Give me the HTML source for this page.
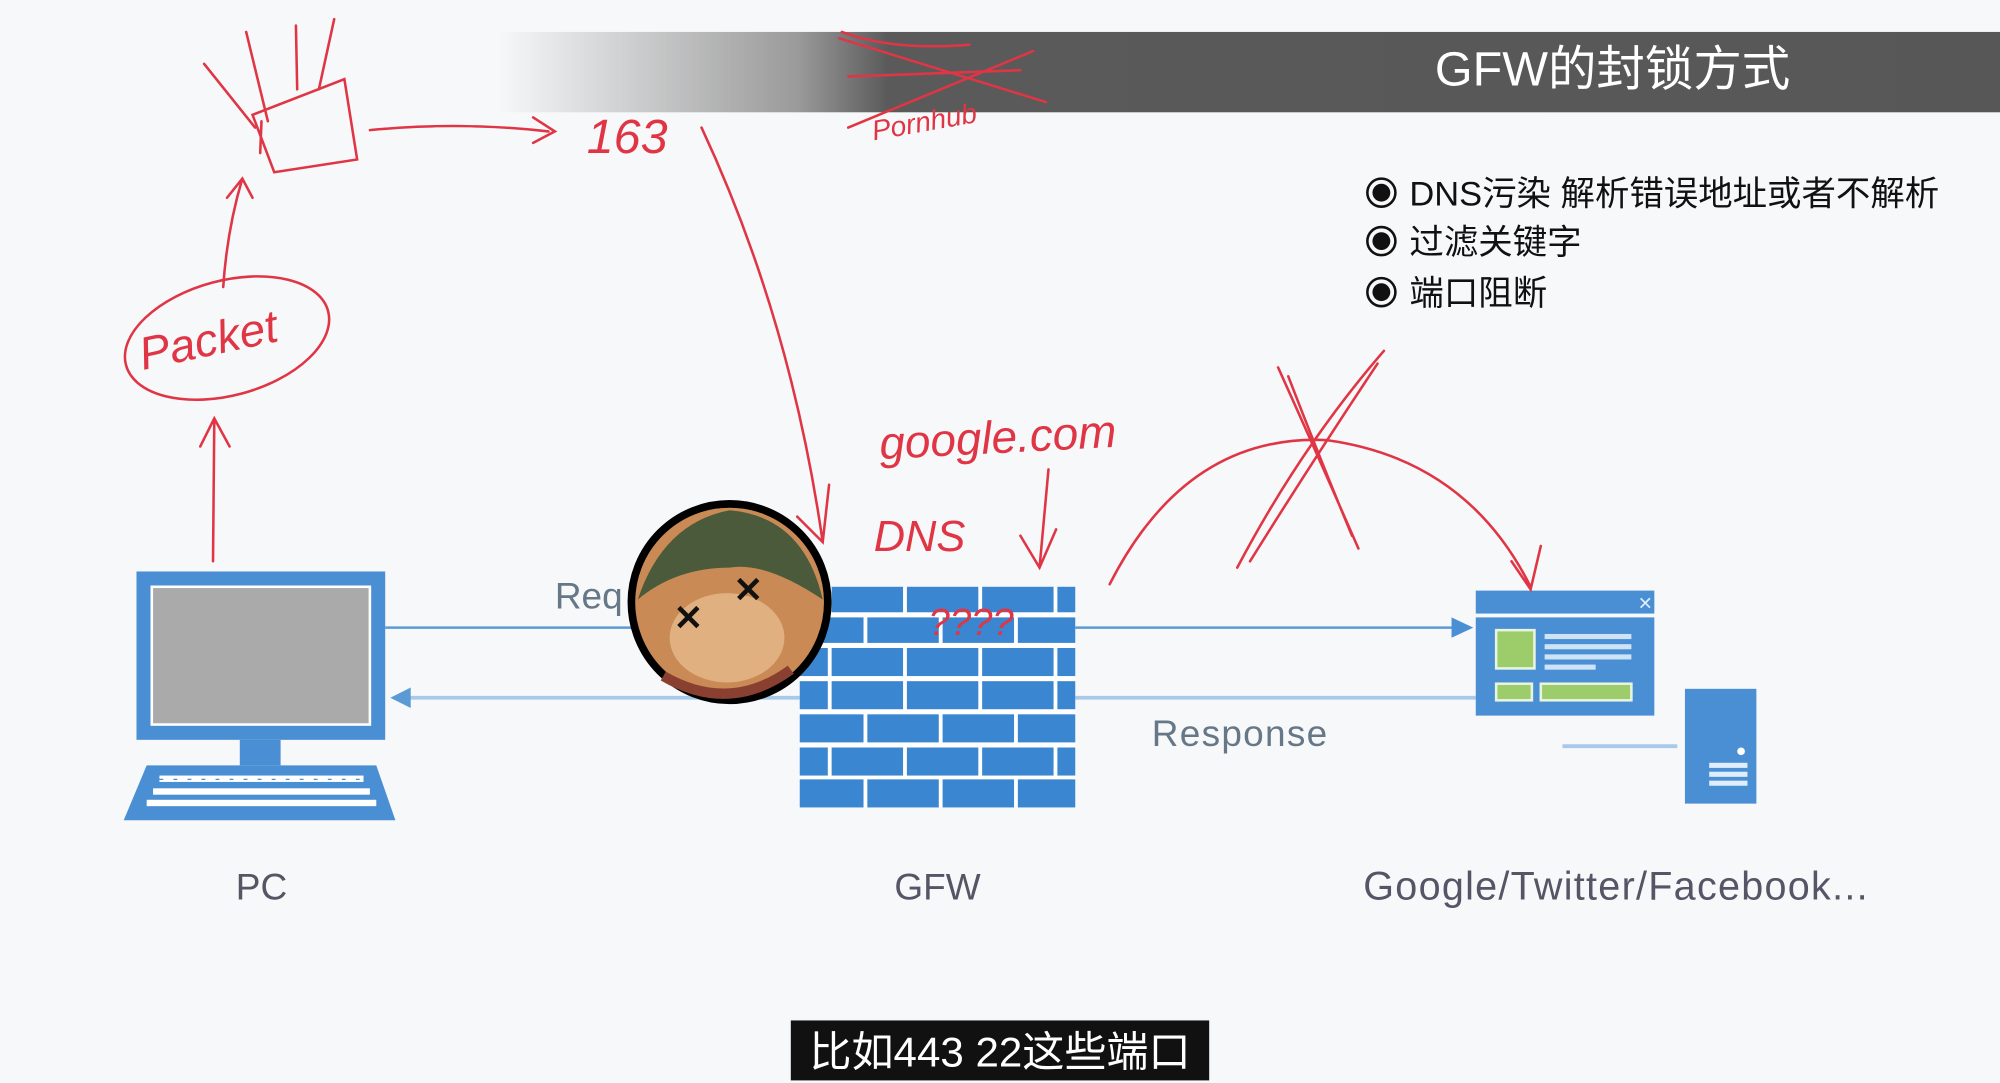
<!DOCTYPE html>
<html><head><meta charset="utf-8"><style>
html,body{margin:0;padding:0;background:#f7f8fa;}
svg{display:block}
text{font-family:"Liberation Sans","Noto Sans CJK SC",sans-serif}
</style></head><body>
<svg width="2000" height="1083" viewBox="0 0 1568 849" xmlns="http://www.w3.org/2000/svg">
<defs>
<linearGradient id="hg" x1="0" x2="1" y1="0" y2="0">
<stop offset="0" stop-color="#f7f8fa"/>
<stop offset="0.2" stop-color="#9a9a9a"/>
<stop offset="0.26" stop-color="#5a5a5a"/>
<stop offset="1" stop-color="#575757"/>
</linearGradient>
</defs>
<rect width="1568" height="849" fill="#f7f8fa"/>
<rect x="390" y="25" width="1178" height="63" fill="url(#hg)"/>
<text x="1125" y="67" font-size="38" fill="#fff">GFW的封锁方式</text>

<g font-size="27" fill="#111">
<circle cx="1083" cy="151" r="11" fill="none" stroke="#111" stroke-width="2"/><circle cx="1083" cy="151" r="7" fill="#111"/>
<text x="1105" y="161">DNS污染 解析错误地址或者不解析</text>
<circle cx="1083" cy="189" r="11" fill="none" stroke="#111" stroke-width="2"/><circle cx="1083" cy="189" r="7" fill="#111"/>
<text x="1105" y="199">过滤关键字</text>
<circle cx="1083" cy="229" r="11" fill="none" stroke="#111" stroke-width="2"/><circle cx="1083" cy="229" r="7" fill="#111"/>
<text x="1105" y="239">端口阻断</text>
</g>

<line x1="302" y1="492" x2="1140" y2="492" stroke="#5b9bd5" stroke-width="2"/>
<polygon points="1155,492 1138,484 1138,500" fill="#4a8fd4"/>
<line x1="320" y1="547" x2="1157" y2="547" stroke="#a9c9ea" stroke-width="3"/>
<polygon points="306,547 322,539 322,555" fill="#5b9bd5"/>
<line x1="1225" y1="585" x2="1315" y2="585" stroke="#a9c9ea" stroke-width="3"/>
<text x="435" y="477" font-size="29" fill="#667788">Req</text>
<text x="903" y="585" font-size="29" fill="#667788" letter-spacing="1">Response</text>

<rect x="107" y="448" width="195" height="132" fill="#4a8fd4"/>
<rect x="119" y="460" width="171" height="108" fill="#aaaaaa" stroke="#fff" stroke-width="2"/>
<rect x="188" y="580" width="32" height="20" fill="#4a8fd4"/>
<polygon points="115,600 295,600 310,643 97,643" fill="#4a8fd4"/>
<g fill="#fff">
<rect x="125" y="608" width="160" height="5"/><rect x="120" y="618" width="170" height="5"/><rect x="115" y="627" width="180" height="5"/>
</g>
<line x1="125" y1="611" x2="285" y2="611" stroke="#4a8fd4" stroke-width="1" stroke-dasharray="3,8"/>

<rect x="627" y="460" width="216" height="173" fill="#fff"/>
<g fill="#3a86d0">
<rect x="652" y="460" width="56" height="20"/><rect x="711" y="460" width="56" height="20"/><rect x="770" y="460" width="56" height="20"/><rect x="829" y="460" width="14" height="20"/><rect x="627" y="460" width="22" height="20"/>
<rect x="627" y="484" width="50" height="20"/><rect x="680" y="484" width="56" height="20"/><rect x="739" y="484" width="56" height="20"/><rect x="798" y="484" width="45" height="20"/>
<rect x="627" y="508" width="22" height="22"/><rect x="652" y="508" width="56" height="22"/><rect x="711" y="508" width="56" height="22"/><rect x="770" y="508" width="56" height="22"/><rect x="829" y="508" width="14" height="22"/>
<rect x="627" y="534" width="22" height="22"/><rect x="652" y="534" width="56" height="22"/><rect x="711" y="534" width="56" height="22"/><rect x="770" y="534" width="56" height="22"/><rect x="829" y="534" width="14" height="22"/>
<rect x="627" y="560" width="50" height="22"/><rect x="680" y="560" width="56" height="22"/><rect x="739" y="560" width="56" height="22"/><rect x="798" y="560" width="45" height="22"/>
<rect x="627" y="586" width="22" height="22"/><rect x="652" y="586" width="56" height="22"/><rect x="711" y="586" width="56" height="22"/><rect x="770" y="586" width="56" height="22"/><rect x="829" y="586" width="14" height="22"/>
<rect x="627" y="611" width="50" height="22"/><rect x="680" y="611" width="56" height="22"/><rect x="739" y="611" width="56" height="22"/><rect x="798" y="611" width="45" height="22"/>
</g>

<rect x="1157" y="463" width="140" height="18" fill="#4a8fd4"/>
<text x="1284" y="478" font-size="14" fill="#dfeefa">✕</text>
<rect x="1157" y="484" width="140" height="77" fill="#4a8fd4"/>
<rect x="1173" y="494" width="30" height="30" fill="#9ccd6a" stroke="#e8f4e0" stroke-width="2"/>
<g fill="#cfe3f6"><rect x="1211" y="497" width="68" height="4"/><rect x="1211" y="505" width="68" height="4"/><rect x="1211" y="513" width="68" height="4"/><rect x="1211" y="521" width="40" height="4"/></g>
<rect x="1173" y="536" width="28" height="13" fill="#9ccd6a" stroke="#e8f4e0" stroke-width="2"/>
<rect x="1208" y="536" width="71" height="13" fill="#9ccd6a" stroke="#e8f4e0" stroke-width="2"/>
<rect x="1321" y="540" width="56" height="90" fill="#4a8fd4"/>
<circle cx="1365" cy="589" r="3" fill="#fff"/>
<g fill="#dfeefa"><rect x="1340" y="598" width="30" height="4"/><rect x="1340" y="605" width="30" height="4"/><rect x="1340" y="612" width="30" height="4"/></g>

<g font-size="29" fill="#556" text-anchor="middle">
<text x="205" y="705">PC</text><text x="735" y="705">GFW</text><text x="1267" y="705" font-size="31" letter-spacing="1">Google/Twitter/Facebook...</text>
</g>

<circle cx="572" cy="472" r="77" fill="#c98a55" stroke="#000" stroke-width="6"/>
<path d="M500 470 Q520 410 572 400 Q630 405 645 470 Q600 440 572 445 Q530 445 500 470Z" fill="#4a5a3a"/>
<ellipse cx="570" cy="500" rx="45" ry="35" fill="#e0b080"/>
<text x="528" y="494" font-size="28" fill="#111" font-weight="bold">✕</text>
<text x="575" y="472" font-size="28" fill="#111" font-weight="bold">✕</text>
<path d="M520 530 Q572 560 620 525" fill="none" stroke="#8a4030" stroke-width="8"/>

<g fill="none" stroke="#e03545" stroke-width="2" stroke-linecap="round">
<path d="M160 50 L200 100 M193 25 L210 95 M232 20 L233 70 M262 15 L250 70 M198 90 L270 62 L280 125 L215 135 Z M205 95 L204 120"/>
<path d="M290 102 Q360 95 430 103 M418 92 L435 103 L418 112"/>
<text x="460" y="120" font-size="38" fill="#e03545" stroke="none" font-style="italic">163</text>
<ellipse cx="178" cy="265" rx="82" ry="45" transform="rotate(-15 178 265)"/>
<text x="112" y="290" font-size="36" fill="#e03545" stroke="none" font-style="italic" transform="rotate(-12 112 290)">Packet</text>
<path d="M175 225 Q178 180 190 140 M178 155 L190 140 L198 155"/>
<path d="M167 440 L168 330 M157 350 L168 328 L180 350"/>
<path d="M550 100 Q620 250 645 425 M625 405 L645 425 L650 380"/>
<text x="690" y="360" font-size="36" fill="#e03545" stroke="none" font-style="italic" transform="rotate(-3 690 360)">google.com</text>
<text x="685" y="432" font-size="34" fill="#e03545" stroke="none" font-style="italic">DNS</text>
<path d="M822 368 L815 445 M800 420 L815 445 L828 415"/>
<text x="728" y="498" font-size="30" fill="#e03545" stroke="none" font-style="italic">????</text>
<path d="M870 458 Q930 340 1040 345 Q1150 360 1200 460 M1185 440 L1200 462 L1208 428"/>
<path d="M1002 288 Q1030 350 1065 430 M1085 275 Q1020 350 970 445 M1010 295 Q1035 360 1060 420 M1080 285 Q1030 360 980 440"/>
<path d="M658 30 L820 80 M665 100 L810 40 M660 25 Q700 40 760 35 M665 60 L800 55"/>
<text x="685" y="110" font-size="22" fill="#e03545" stroke="none" font-style="italic" transform="rotate(-10 685 110)">Pornhub</text>
</g>

<rect x="620" y="800" width="328" height="47" fill="#111"/>
<text x="784" y="836" font-size="33" fill="#fff" text-anchor="middle">比如443 22这些端口</text>
</svg>
</body></html>
